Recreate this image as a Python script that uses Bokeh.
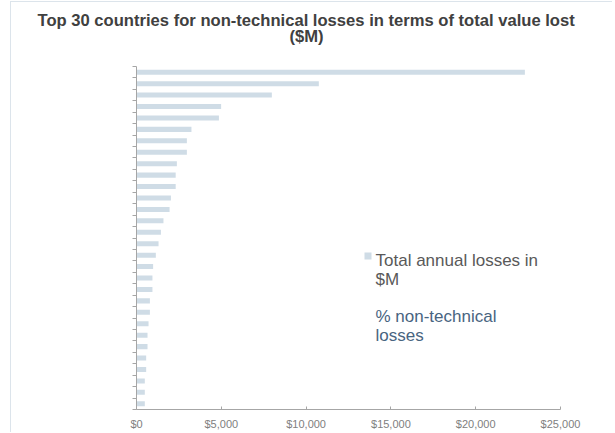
from bokeh.plotting import figure
from bokeh.models import (FixedTicker, NumeralTickFormatter, Label, Range1d, BoxAnnotation,
                          Title, InlineStyleSheet)
from bokeh.embed import file_html
from bokeh.resources import INLINE

# ---- data ----
ranks = list(range(1, 31))
losses = [22900, 10750, 7980, 4990, 4860, 3240, 2970, 2970, 2380, 2310,
          2310, 2030, 1950, 1590, 1440, 1300, 1140, 980, 940, 940,
          790, 790, 710, 650, 650, 570, 570, 490, 490, 490]
x_ticks = [0, 5000, 10000, 15000, 20000, 25000]
title_lines = ["Top 30 countries for non-technical losses in terms of total value lost", "($M)"]
legend_series1 = ["Total annual losses in", "$M"]
legend_series2 = ["% non-technical", "losses"]

FONT = "Liberation Sans"
BAR = "#cfdce6"

p = figure(width=612, height=432, output_backend="svg", toolbar_location=None,
           title=None,
           x_range=Range1d(0, 25000), y_range=Range1d(30.5, 0.5),
           min_border_left=136, min_border_right=52,
           min_border_top=66, min_border_bottom=22)

# faint outer chart frame (left and top edges, as in the reference)
p.stylesheets = [InlineStyleSheet(css="""
:host::after {
  content: "";
  position: absolute;
  left: 10px; top: 1px; right: 0; bottom: 0;
  border-left: 1px solid #dce4eb;
  border-top: 1px solid #dce4eb;
  pointer-events: none;
}
""")]

p.hbar(y=ranks, left=0, right=losses, height=0.44, color=BAR, line_color=None)

# title: spacer nearest the frame, then line 2, then line 1
p.add_layout(Title(text=" ", text_font_size="1px", standoff=18), "above")
p.add_layout(Title(text=title_lines[1], align="left", offset=153, standoff=0,
                   text_font=FONT, text_font_size="16.6px", text_font_style="bold",
                   text_color="#404040"), "above")
p.add_layout(Title(text=title_lines[0], align="left", offset=-99, standoff=-10,
                   text_font=FONT, text_font_size="16.6px", text_font_style="bold",
                   text_color="#404040"), "above")

# axes
xa = p.xaxis[0]
xa.ticker = FixedTicker(ticks=x_ticks)
xa.formatter = NumeralTickFormatter(format="$0,0")
xa.major_tick_in = 3
xa.major_tick_out = 0
xa.minor_tick_line_color = None
xa.axis_line_color = "#a6a6a6"
xa.major_tick_line_color = "#a6a6a6"
xa.major_label_text_color = "#808080"
xa.major_label_text_font = FONT
xa.major_label_text_font_size = "11px"
xa.major_label_standoff = 8

y_bounds = [r - 0.5 for r in ranks] + [ranks[-1] + 0.5]
ya = p.yaxis[0]
ya.ticker = FixedTicker(ticks=y_bounds)
ya.major_label_overrides = {b: "" for b in y_bounds}
ya.major_tick_in = 0
ya.major_tick_out = 4
ya.minor_tick_line_color = None
ya.axis_line_color = "#a6a6a6"
ya.major_tick_line_color = "#a6a6a6"

p.xgrid.grid_line_color = None
p.ygrid.grid_line_color = None
p.outline_line_color = None

# legend (drawn manually to allow wrapped labels)
p.add_layout(BoxAnnotation(left=228, right=235, bottom=150, top=157,
                           left_units="screen", right_units="screen",
                           top_units="screen", bottom_units="screen",
                           fill_color=BAR, fill_alpha=1, line_color=None))
for txt, yy in zip(legend_series1, [149, 130]):
    p.add_layout(Label(x=239, y=yy, x_units="screen", y_units="screen", text=txt,
                       text_font=FONT, text_font_size="17px", text_color="#595959",
                       text_baseline="alphabetic"))
for txt, yy in zip(legend_series2, [93, 74]):
    p.add_layout(Label(x=239, y=yy, x_units="screen", y_units="screen", text=txt,
                       text_font=FONT, text_font_size="17px", text_color="#48647f",
                       text_baseline="alphabetic"))

open("out.html", "w").write(file_html(p, INLINE))
